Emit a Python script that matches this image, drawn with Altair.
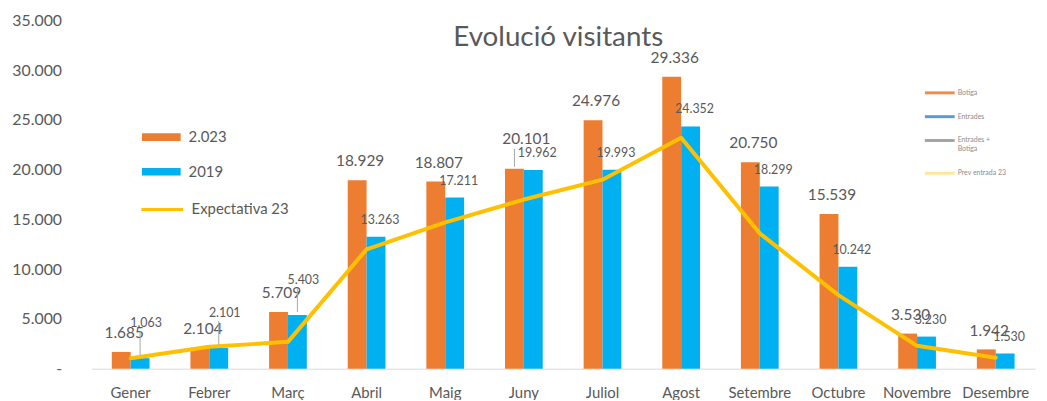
import altair as alt
import pandas as pd

months = ["Gener", "Febrer", "Març", "Abril", "Maig", "Juny", "Juliol",
          "Agost", "Setembre", "Octubre", "Novembre", "Desembre"]
v2023 = [1685, 2104, 5709, 18929, 18807, 20101, 24976, 29336, 20750, 15539, 3530, 1942]
v2019 = [1063, 2101, 5403, 13263, 17211, 19962, 19993, 24352, 18299, 10242, 3230, 1530]
expect = [1050, 2200, 2700, 12000, 14700, 17000, 19000, 23200, 13600, 7400, 2300, 1100]
series_names = ["2.023", "2019"]
line_name = "Expectativa 23"
mini_items = ["Botiga", "Entrades", "Entrades + Botiga", "Prev entrada 23"]
mini_colors = ["#F08C4E", "#5B9BD5", "#A5A5A5", "#FFE699"]

ORANGE = "#ED7D31"
BLUE = "#00B0F0"
YELLOW = "#FFC000"
GRAY = "#595959"
FONT = "Lato"
NBSP = "\u00a0"

bars_df = pd.DataFrame({
    "month": months * 2,
    "series": [series_names[0]] * len(months) + [series_names[1]] * len(months),
    "value": v2023 + v2019,
})
line_df = pd.DataFrame({"month": months, "serie": [line_name] * len(months), "value": expect})
mini_df = pd.DataFrame({"item": mini_items})

fmt = "replace(format(datum.value, ','), ',', '.')"

x = alt.X("month:N", sort=months,
          scale=alt.Scale(paddingInner=0.52, paddingOuter=0.26),
          axis=alt.Axis(title=None, labelAngle=0, ticks=False, domainColor="#D9D9D9",
                        domainWidth=1, labelPadding=17, labelFontSize=15,
                        labelColor=GRAY, labelFont=FONT))
y = alt.Y("value:Q", scale=alt.Scale(domain=[0, 35000], nice=False),
          axis=alt.Axis(title=None, values=list(range(0, 35001, 5000)),
                        labelExpr="datum.value == 0 ? '-" + NBSP * 3 + "' : " + fmt,
                        domain=False, ticks=False, grid=False, labelPadding=30,
                        labelFontSize=16, labelColor=GRAY, labelFont=FONT))
xo = alt.XOffset("series:N", scale=alt.Scale(domain=series_names))

S0 = "datum.series == '" + series_names[0] + "'"
S1 = "datum.series == '" + series_names[1] + "'"
FIRST3 = "indexof(['Gener', 'Febrer', 'Març'], datum.month) >= 0"

bars = alt.Chart(bars_df).mark_bar().encode(
    x=x, y=y, xOffset=xo,
    color=alt.Color("series:N", scale=alt.Scale(domain=series_names, range=[ORANGE, BLUE]),
                    legend=alt.Legend(title=None, orient="none", legendX=51, legendY=98,
                                      direction="vertical", symbolType="M-1,-0.2H1V0.2H-1Z",
                                      symbolSize=1521, symbolStrokeWidth=0,
                                      labelFontSize=15, labelColor=GRAY, labelFont=FONT,
                                      labelOffset=8, rowPadding=7, padding=0)),
)

line = alt.Chart(line_df).mark_line(strokeWidth=4, strokeJoin="round", strokeCap="round").encode(
    x=x, y=y,
    stroke=alt.Stroke("serie:N", scale=alt.Scale(domain=[line_name], range=[YELLOW]),
                      legend=alt.Legend(title=None, orient="none", legendX=49, legendY=168,
                                        symbolType="stroke", symbolSize=1764,
                                        symbolStrokeWidth=3, labelFontSize=15,
                                        labelColor=GRAY, labelFont=FONT, labelOffset=7,
                                        padding=0)),
)

base_txt = alt.Chart(bars_df).transform_calculate(label=fmt)

orange_lbl = base_txt.transform_filter(S0 + " && datum.month != 'Juny'").mark_text(
    dy=-19, dx=3, fontSize=15.5, color=GRAY, font=FONT).encode(
    x=x, y=y, xOffset=xo, text="label:N")

orange_juny = base_txt.transform_filter(S0 + " && datum.month == 'Juny'").mark_text(
    dy=-30, dx=12, fontSize=15.5, color=GRAY, font=FONT).encode(
    x=x, y=y, xOffset=xo, text="label:N")

orange_juny_lead = alt.Chart(bars_df).transform_filter(S0 + " && datum.month == 'Juny'").mark_rule(
    color="#A6A6A6", strokeWidth=1, yOffset=-20, y2Offset=-2).encode(
    x=x, xOffset=xo, y=y, y2="value:Q")

blue_lbl = base_txt.transform_filter(S1 + " && !(" + FIRST3 + ")").mark_text(
    dy=-17, dx=4, fontSize=12.5, color=GRAY, font=FONT).encode(
    x=x, y=y, xOffset=xo, text="label:N")

blue_first = base_txt.transform_filter(S1 + " && " + FIRST3).mark_text(
    dy=-35, dx=6, fontSize=12.5, color=GRAY, font=FONT).encode(
    x=x, y=y, xOffset=xo, text="label:N")

blue_lead = alt.Chart(bars_df).transform_filter(S1 + " && " + FIRST3).mark_rule(
    color="#A6A6A6", strokeWidth=1, yOffset=-27, y2Offset=-3).encode(
    x=x, xOffset=xo, y=y, y2="value:Q")

mini = alt.Chart(mini_df).mark_text(text="").encode(
    fill=alt.Fill("item:N", scale=alt.Scale(domain=mini_items, range=mini_colors),
                  legend=alt.Legend(title=None, orient="none", legendX=840, legendY=58,
                                    symbolType="M-1,-0.1H1V0.1H-1Z", symbolSize=900,
                                    symbolStrokeWidth=0, labelFontSize=7, labelColor="#8C8C8C",
                                    labelFont=FONT, labelOffset=3, rowPadding=6, padding=0,
                                    labelExpr="datum.label == 'Entrades + Botiga' ? ['Entrades +', 'Botiga'] : datum.label")),
)

chart = alt.layer(
    bars, line, orange_lbl, orange_juny, orange_juny_lead, blue_lbl, blue_first, blue_lead, mini
).resolve_scale(color="independent", stroke="independent", fill="independent").properties(
    width=951, height=351,
    autosize=alt.AutoSizeParams(type="none"),
    padding={"left": 84, "top": 11, "right": 4, "bottom": 30},
    title=alt.TitleParams("Evolució visitants", font=FONT, fontSize=28, fontWeight="normal",
                          color=GRAY, anchor="middle", frame="group", offset=0, dy=40, dx=-5),
    background="white",
).configure_view(stroke=None)

chart.save("out.html", embed_options={"renderer": "svg", "actions": False})
